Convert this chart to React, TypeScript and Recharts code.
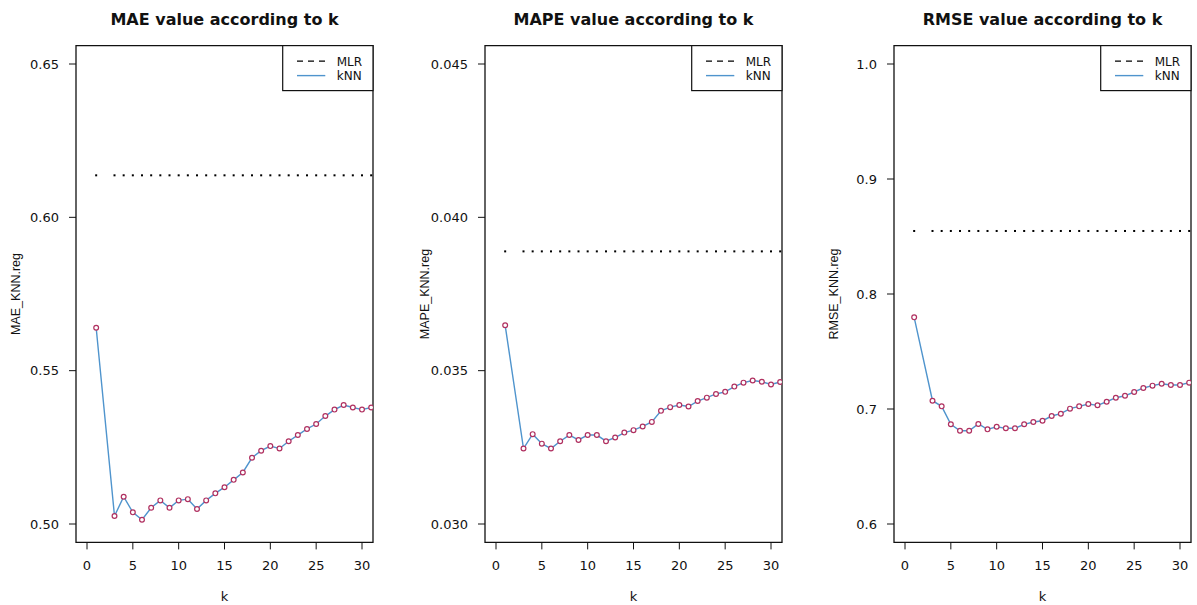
import React from "react";
import { LineChart, Line, XAxis, YAxis, ReferenceArea } from "recharts";

// k values used (k = 2 is absent in the source figure)
const kValues = [1, 3, 4, 5, 6, 7, 8, 9, 10, 11, 12, 13, 14, 15, 16, 17, 18, 19, 20, 21, 22, 23, 24, 25, 26, 27, 28, 29, 30, 31];

const maeKnn = [0.564, 0.5026, 0.5089, 0.5038, 0.5014, 0.5053, 0.5077, 0.5053, 0.5077, 0.5081, 0.5049, 0.5077, 0.51, 0.512, 0.5144, 0.5168, 0.5216, 0.5239, 0.5254, 0.5246, 0.527, 0.529, 0.531, 0.5326, 0.5352, 0.5373, 0.5388, 0.538, 0.5373, 0.538];
const mapeKnn = [0.03648, 0.03246, 0.03293, 0.03262, 0.03246, 0.0327, 0.0329, 0.03274, 0.0329, 0.0329, 0.0327, 0.03282, 0.03298, 0.03306, 0.03318, 0.03333, 0.03369, 0.03381, 0.03388, 0.03383, 0.03401, 0.03412, 0.03424, 0.03431, 0.03448, 0.03461, 0.03468, 0.03464, 0.03455, 0.03463];
const rmseKnn = [0.7797, 0.7072, 0.7023, 0.6867, 0.6811, 0.6811, 0.687, 0.6823, 0.6846, 0.6832, 0.6832, 0.6867, 0.6887, 0.6898, 0.6939, 0.6959, 0.7003, 0.7023, 0.7043, 0.7032, 0.7063, 0.7098, 0.7115, 0.7148, 0.7183, 0.7203, 0.722, 0.7209, 0.7209, 0.7229];

const maeMlr = 0.6137;
const mapeMlr = 0.03889;
const rmseMlr = 0.8548;

const xTicks = [0, 5, 10, 15, 20, 25, 30];
const maeTicks = [0.5, 0.55, 0.6, 0.65];
const mapeTicks = [0.03, 0.035, 0.04, 0.045];
const rmseTicks = [0.6, 0.7, 0.8, 0.9, 1.0];

const titles = ["MAE value according to k", "MAPE value according to k", "RMSE value according to k"];
const yLabels = ["MAE_KNN.reg", "MAPE_KNN.reg", "RMSE_KNN.reg"];
const legendLabels = ["MLR", "kNN"];

const panels = [
  { title: titles[0], yLabel: yLabels[0], knn: maeKnn, mlr: maeMlr, ticks: maeTicks, domain: [0.494, 0.656], digits: 2, left: 0 },
  { title: titles[1], yLabel: yLabels[1], knn: mapeKnn, mlr: mapeMlr, ticks: mapeTicks, domain: [0.0294, 0.0456], digits: 3, left: 409.2 },
  { title: titles[2], yLabel: yLabels[2], knn: rmseKnn, mlr: rmseMlr, ticks: rmseTicks, domain: [0.584, 1.016], digits: 1, left: 818.4 },
];

const W = 379;
const H = 605;
const PLOT_LEFT = 76;
const PLOT_RIGHT = 373;
const PLOT_TOP = 45.6;
const PLOT_BOTTOM = 542.4;
const X_DOMAIN = [-1.2, 31.2];

const KNN_COLOR = "#4F94CD";
const PT_COLOR = "#B03060";
const INK = "#111";

const squareDot = (props: any) => {
  const { cx, cy, index } = props;
  if (cx == null || cy == null) return <g key={`m${index}`} />;
  return <rect key={`m${index}`} x={cx - 1} y={cy - 1} width={2} height={2} fill="#000" />;
};

function Panel({ p }: { p: any }) {
  const data = kValues.map((k, i) => ({ k, knn: p.knn[i], mlr: p.mlr }));
  const cx = (PLOT_LEFT + PLOT_RIGHT) / 2;
  const cy = (PLOT_TOP + PLOT_BOTTOM) / 2;
  const lgLeft = PLOT_RIGHT - 90.3;
  return (
    <div style={{ position: "absolute", left: p.left, top: 0, width: W, height: H }}>
      <LineChart
        width={W}
        height={H}
        data={data}
        margin={{ top: PLOT_TOP, right: W - PLOT_RIGHT, bottom: H - PLOT_BOTTOM - 30, left: PLOT_LEFT - 60 }}
      >
        <XAxis
          dataKey="k"
          type="number"
          domain={X_DOMAIN}
          allowDataOverflow
          ticks={xTicks}
          height={30}
          axisLine={false}
          tickSize={7}
          tickMargin={11}
          tickLine={{ stroke: INK }}
          tick={{ fontFamily: "DejaVu Sans", fontSize: 13, fill: INK }}
          interval={0}
        />
        <YAxis
          type="number"
          domain={p.domain}
          allowDataOverflow
          ticks={p.ticks}
          width={60}
          axisLine={false}
          tickSize={7}
          tickMargin={10}
          tickLine={{ stroke: INK }}
          tick={{ fontFamily: "DejaVu Sans", fontSize: 13, fill: INK }}
          tickFormatter={(v: number) => v.toFixed(p.digits)}
          interval={0}
        />
        <ReferenceArea
          x1={X_DOMAIN[0]}
          x2={X_DOMAIN[1]}
          y1={p.domain[0]}
          y2={p.domain[1]}
          fill="none"
          fillOpacity={0}
          stroke={INK}
          strokeWidth={1.3}
          ifOverflow="visible"
        />
        <Line
          dataKey="mlr"
          stroke="none"
          dot={squareDot}
          activeDot={false}
          isAnimationActive={false}
        />
        <Line
          dataKey="knn"
          type="linear"
          stroke={KNN_COLOR}
          strokeWidth={1.4}
          dot={{ r: 2.4, stroke: PT_COLOR, strokeWidth: 1.2, fill: "#fff" }}
          activeDot={false}
          isAnimationActive={false}
        />
      </LineChart>
      <svg width={W} height={H} style={{ position: "absolute", left: 0, top: 0, pointerEvents: "none" }}>
        <text x={cx} y={25} textAnchor="middle" fontFamily="DejaVu Sans" fontWeight="bold" fontSize={16} fill={INK}>
          {p.title}
        </text>
        <text
          x={16}
          y={cy}
          transform={`rotate(-90 16 ${cy})`}
          textAnchor="middle"
          dominantBaseline="central"
          fontFamily="Liberation Sans"
          fontSize={12.5}
          fill={INK}
        >
          {p.yLabel}
        </text>
        <text x={cx} y={601} textAnchor="middle" fontFamily="DejaVu Sans" fontSize={13} fill={INK}>
          k
        </text>
        <g transform={`translate(${lgLeft}, ${PLOT_TOP})`}>
          <rect x={0} y={0} width={90.3} height={45} fill="#fff" stroke={INK} strokeWidth={1.2} />
          <line x1={14.3} x2={42.6} y1={15.5} y2={15.5} stroke="#000" strokeWidth={1.2} strokeDasharray="6 5" />
          <line x1={14.3} x2={42.6} y1={30} y2={30} stroke={KNN_COLOR} strokeWidth={1.4} />
          <text x={54} y={20} fontFamily="DejaVu Sans" fontSize={12} fill={INK}>
            {legendLabels[0]}
          </text>
          <text x={54} y={34} fontFamily="DejaVu Sans" fontSize={12} fill={INK}>
            {legendLabels[1]}
          </text>
        </g>
      </svg>
    </div>
  );
}

export default function App() {
  return (
    <div style={{ position: "absolute", left: 0, top: 0, width: 1197, height: 605, overflow: "hidden", background: "#fff" }}>
      {panels.map((p, i) => (
        <Panel key={i} p={p} />
      ))}
    </div>
  );
}
